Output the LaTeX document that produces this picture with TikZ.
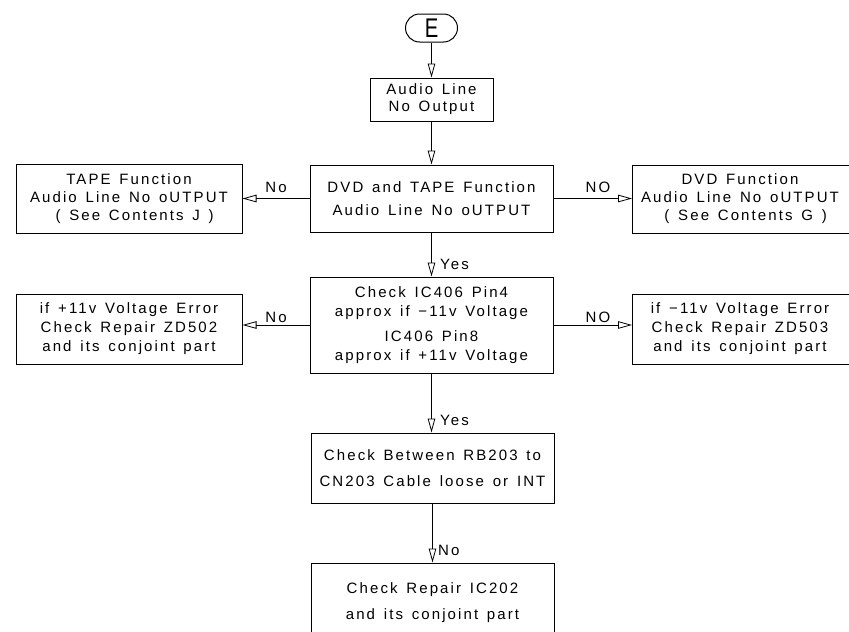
\documentclass[tikz,border=0pt]{standalone}
\usepackage{fontspec}
\setmainfont{Liberation Sans}[LetterSpace=14, WordSpace=1.4]
\newfontfamily\bigE{Liberation Sans}
\usetikzlibrary{arrows.meta}
\tikzset{
  box/.style={draw, line width=1pt, inner sep=0pt, align=center, font=\fontsize{15}{17}\selectfont},
  conn/.style={draw, line width=1pt, -{Triangle[open, length=14pt, width=7.5pt, line width=0.8pt]}},
  lbl/.style={font=\fontsize{15}{17}\selectfont, inner sep=0pt},
}
\begin{document}
\begin{tikzpicture}[x=1pt, y=-1pt]
\useasboundingbox (0,0) rectangle (849,632);
\clip (0,0) rectangle (849,632);
\node[box, rounded corners=14pt, minimum width=52pt, minimum height=28pt, font=\bigE\fontsize{27}{27}\selectfont] (E) at (431.5,28) {\scalebox{0.75}[1]{E}};
\node[box, minimum width=123pt, minimum height=43pt] (audio) at (431.5,99.5) {Audio Line\\No Output};
\node[box, minimum width=243pt, minimum height=67pt, font=\fontsize{15}{23}\selectfont] (dt) at (431.5,198.5) {DVD and TAPE Function\\Audio Line No oUTPUT};
\node[box, minimum width=226pt, minimum height=69pt, font=\fontsize{15}{18}\selectfont] (tape) at (129,198.5) {TAPE Function\\Audio Line No oUTPUT\\\ \,( See Contents J )};
\node[box, minimum width=230pt, minimum height=68pt, anchor=west, font=\fontsize{15}{18}\selectfont] (dvd) at (632,199) {\hspace*{-15pt}\begin{tabular}{@{}c@{}}DVD Function\\Audio Line No oUTPUT\\\ \,( See Contents G )\end{tabular}};
\node[box, minimum width=243pt, minimum height=96pt, font=\fontsize{15}{19}\selectfont] (chk) at (431.5,325) {Check IC406 Pin4\\approx if −11v Voltage\\[6pt]IC406 Pin8\\approx if +11v Voltage};
\node[box, minimum width=226pt, minimum height=70pt, font=\fontsize{15}{19}\selectfont] (lv) at (129,329) {if +11v Voltage Error\\Check Repair ZD502\\and its conjoint part};
\node[box, minimum width=230pt, minimum height=70pt, anchor=west, font=\fontsize{15}{19}\selectfont] (rv) at (632,329) {\hspace*{-15pt}\begin{tabular}{@{}c@{}}if −11v Voltage Error\\Check Repair ZD503\\and its conjoint part\end{tabular}};
\node[box, minimum width=243pt, minimum height=70pt, font=\fontsize{15}{26}\selectfont] (bt) at (432.5,468) {Check Between RB203 to\\CN203 Cable loose or INT};
\node[box, minimum width=243pt, minimum height=80pt, font=\fontsize{15}{26}\selectfont] (rep) at (432.5,603) {Check Repair IC202\\and its conjoint part};
\draw[conn] (E) -- (audio);
\draw[conn] (audio) -- (dt);
\draw[conn] (dt) -- (tape);
\draw[conn] (dt) -- (dt.east -| dvd.west);
\draw[conn] (dt) -- (chk);
\draw[conn] (chk.west) -- (chk.west -| lv.east);
\draw[conn] (chk.east) -- (chk.east -| rv.west);
\draw[conn] (chk.south) -- (chk.south |- bt.north);
\draw[conn] (bt) -- (bt.south |- rep.north);
\node[lbl, anchor=center] (l1) at (276,187) {No};
\node[lbl, anchor=center] (l2) at (598,187) {NO};
\node[lbl, anchor=west] (l3) at (440,264) {Yes};
\node[lbl, anchor=center] (l4) at (276,317) {No};
\node[lbl, anchor=center] (l5) at (598,317) {NO};
\node[lbl, anchor=west] (l6) at (440,420) {Yes};
\node[lbl, anchor=west] (l7) at (438,550) {No};
\end{tikzpicture}
\end{document}
